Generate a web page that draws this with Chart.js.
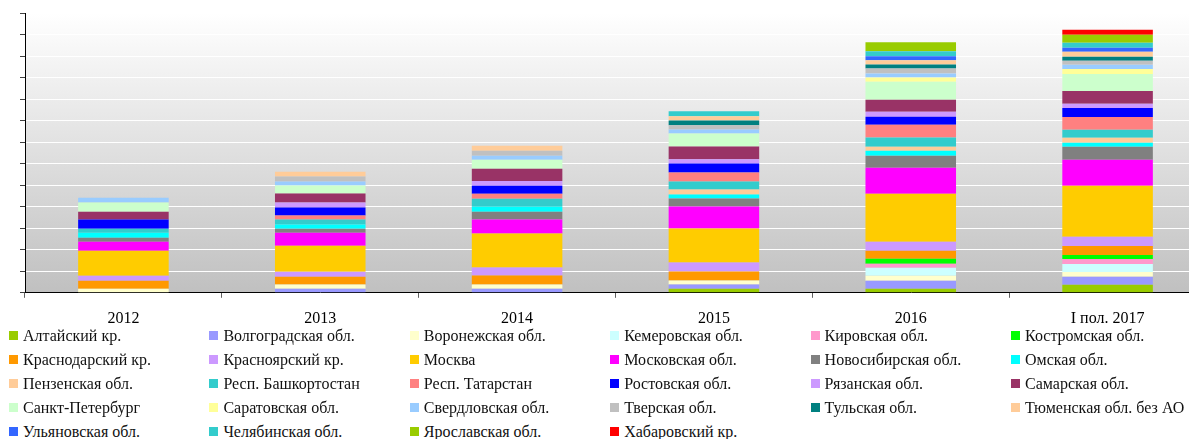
<!DOCTYPE html>
<html>
<head>
<meta charset="utf-8">
<script src="https://cdn.jsdelivr.net/npm/chart.js@4"></script>
<style>
    html, body { margin: 0; padding: 0; background: #fff; overflow: hidden; }
    #wrap { position: relative; width: 1210px; height: 439px; }
    #chartBox { position: absolute; left: 0; top: 0; width: 1206px; height: 341px; }
    #legend { position: absolute; left: 0; top: 327px; width: 1260px; }
    .item { position: absolute; white-space: nowrap; font-family: "Liberation Serif", serif; font-size: 16px; color: #111; line-height: 18px; }
    .item i { position: absolute; left: 0; top: 4px; width: 9px; height: 9px; }
    .item span { position: absolute; left: 14px; top: 0; }
</style>
</head>
<body>
<div id="wrap">
    <div id="chartBox"><canvas id="chart"></canvas></div>
    <div id="legend"></div>
</div>
<script>
let categories = ["2012", "2013", "2014", "2015", "2016", "I пол. 2017"];

let regions = [
    "Алтайский кр.", "Волгоградская обл.", "Воронежская обл.", "Кемеровская обл.", "Кировская обл.", "Костромская обл.",
    "Краснодарский кр.", "Красноярский кр.", "Москва", "Московская обл.", "Новосибирская обл.", "Омская обл.",
    "Пензенская обл.", "Респ. Башкортостан", "Респ. Татарстан", "Ростовская обл.", "Рязанская обл.", "Самарская обл.",
    "Санкт-Петербург", "Саратовская обл.", "Свердловская обл.", "Тверская обл.", "Тульская обл.", "Тюменская обл. без АО",
    "Ульяновская обл.", "Челябинская обл.", "Ярославская обл.", "Хабаровский кр."
];

let colors = [
    "#99cc00", "#9999ff", "#ffffcc", "#ccffff", "#ff99cc", "#00ff00",
    "#ff9900", "#cc99ff", "#ffcc00", "#ff00ff", "#808080", "#00ffff",
    "#ffcc99", "#33cccc", "#ff8080", "#0000ff", "#cc99ff", "#993366",
    "#ccffcc", "#ffff99", "#99ccff", "#c0c0c0", "#008080", "#ffcc99",
    "#3366ff", "#33cccc", "#99cc00", "#ff0000"
];

// values per period, same order as regions
let y2012 = [0, 0, 0.19, 0, 0, 0, 0.37, 0.23, 1.16, 0.42, 0.19, 0.23, 0, 0.19, 0, 0.42, 0, 0.37, 0.42, 0, 0.23, 0, 0, 0, 0, 0, 0, 0];
let y2013 = [0, 0.19, 0.19, 0, 0, 0, 0.37, 0.23, 1.21, 0.60, 0.19, 0.19, 0, 0.23, 0.19, 0.37, 0.23, 0.42, 0.37, 0, 0.19, 0.23, 0, 0.23, 0, 0, 0, 0];
let y2014 = [0, 0.19, 0.19, 0, 0, 0, 0.42, 0.37, 1.58, 0.65, 0.37, 0.23, 0, 0.37, 0.23, 0.37, 0.23, 0.56, 0.42, 0, 0.19, 0.23, 0, 0.23, 0, 0, 0, 0];
let y2015 = [0.19, 0.19, 0.19, 0, 0, 0, 0.42, 0.42, 1.58, 1.02, 0.37, 0.19, 0.23, 0.37, 0.42, 0.42, 0.19, 0.60, 0.60, 0, 0.19, 0.19, 0.23, 0.19, 0, 0.23, 0, 0];
let y2016 = [0.19, 0.37, 0.23, 0.37, 0.19, 0.23, 0.37, 0.42, 2.23, 1.21, 0.56, 0.23, 0.19, 0.42, 0.60, 0.37, 0.23, 0.56, 0.84, 0.19, 0.19, 0.23, 0.19, 0.19, 0.19, 0.23, 0.42, 0];
let y2017h1 = [0.37, 0.37, 0.23, 0.37, 0.23, 0.19, 0.42, 0.42, 2.37, 1.21, 0.60, 0.19, 0.23, 0.37, 0.60, 0.42, 0.19, 0.60, 0.79, 0.23, 0.19, 0.19, 0.19, 0.23, 0.19, 0.23, 0.37, 0.23];

let periods = [y2012, y2013, y2014, y2015, y2016, y2017h1];

let datasets = regions.map((name, i) => ({
    label: name,
    data: periods.map(p => p[i]),
    backgroundColor: colors[i],
    borderWidth: 0,
    categoryPercentage: 1,
    barPercentage: 0.46
}));

// gradient background of the plot area
let plotBg = {
    id: "plotBg",
    beforeDraw(chart) {
        let a = chart.chartArea, ctx = chart.ctx;
        let g = ctx.createLinearGradient(0, a.top, 0, a.bottom);
        g.addColorStop(0, "#ffffff");
        g.addColorStop(1, "#c0c0c0");
        ctx.save();
        ctx.fillStyle = g;
        ctx.fillRect(a.left, a.top, a.right - a.left, a.bottom - a.top);
        ctx.restore();
    }
};

new Chart(document.getElementById("chart"), {
    type: "bar",
    data: { labels: categories, datasets: datasets },
    options: {
        responsive: true,
        maintainAspectRatio: false,
        animation: false,
        layout: { padding: { left: 20, top: 13, right: 0, bottom: 2 } },
        plugins: { legend: { display: false }, tooltip: { enabled: false } },
        scales: {
            x: {
                stacked: true,
                grid: { offset: true, drawOnChartArea: false, drawTicks: true, tickLength: 5, tickColor: "#606060" },
                border: { color: "#000", width: 1 },
                ticks: { color: "#000", padding: 11, font: { family: "Liberation Serif", size: 16 } }
            },
            y: {
                stacked: true,
                min: 0,
                max: 13,
                ticks: { display: false, stepSize: 1 },
                grid: { color: "#ffffff", lineWidth: 1, drawTicks: true, tickLength: 5, tickColor: "#404040" },
                border: { color: "#000", width: 1 }
            }
        }
    },
    plugins: [plotBg]
});

// legend grid, 6 columns
let legendDiv = document.getElementById("legend");
regions.forEach((name, i) => {
    let col = i % 6, row = Math.floor(i / 6);
    legendDiv.insertAdjacentHTML("beforeend",
        `<div class="item" style="left:${9 + col * 200.4}px;top:${row * 24}px"><i style="background:${colors[i]}"></i><span>${name}</span></div>`);
});
</script>
</body>
</html>
